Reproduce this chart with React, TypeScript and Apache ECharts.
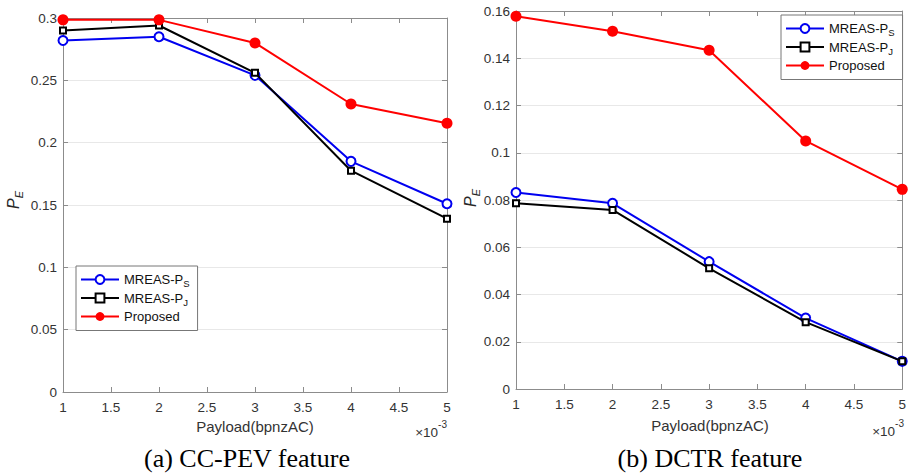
import { useEffect, useRef } from "react";
import * as echarts from "echarts";

const payload = [1, 2, 3, 4, 5];
const seriesNames = ["MREAS-PS", "MREAS-PJ", "Proposed"];
const xTickMin = 1;
const xTickMax = 5;
const xTickStep = 0.5;

// (a) CC-PEV feature
const ccpevPS = [0.282, 0.285, 0.254, 0.185, 0.151];
const ccpevPJ = [0.29, 0.294, 0.256, 0.1775, 0.139];
const ccpevProposed = [0.2985, 0.2985, 0.28, 0.231, 0.2155];
const ccpevYMax = 0.3;
const ccpevYStep = 0.05;

// (b) DCTR feature
const dctrPS = [0.0832, 0.0786, 0.0539, 0.03, 0.0117];
const dctrPJ = [0.0786, 0.0758, 0.0511, 0.0283, 0.0117];
const dctrProposed = [0.1578, 0.1514, 0.1434, 0.105, 0.0845];
const dctrYMax = 0.16;
const dctrYStep = 0.02;

const captions = ["(a) CC-PEV feature", "(b) DCTR feature"];
const xName = "Payload(bpnzAC)";

const SANS = '"Liberation Sans", Arial, Helvetica, sans-serif';
const SERIF = '"Liberation Serif", "Times New Roman", serif';
const AXIS = "#8c8c8c";
const LABEL = "#333333";
const BLUE = "#0000f0";
const BLACK = "#000000";
const RED = "#ff0000";

const pairs = (xs: number[], ys: number[]) => xs.map((x, i) => [x, ys[i]]);

export default function App() {
  const ref = useRef<HTMLDivElement>(null);
  useEffect(() => {
    const chart = echarts.init(ref.current!, null, { renderer: "svg" });

    const grids = [
      { left: 63, top: 18, width: 384, height: 374 },
      { left: 516, top: 11, width: 388, height: 378 },
    ];

    const baseAxis = {
      axisLine: { show: true, onZero: false, lineStyle: { color: AXIS, width: 1 } },
      axisTick: { show: true, inside: true, length: 5, lineStyle: { color: AXIS } },
      splitLine: { show: false },
    };
    const labelStyle = { color: LABEL, fontSize: 13.5, fontFamily: SANS };

    const xAxes: any[] = [];
    const yAxes: any[] = [];
    const yRanges = [
      [ccpevYMax, ccpevYStep],
      [dctrYMax, dctrYStep],
    ];
    [0, 1].forEach((g) => {
      xAxes.push({
        ...baseAxis,
        gridIndex: g,
        type: "value",
        position: "bottom",
        min: xTickMin,
        max: xTickMax,
        interval: xTickStep,
        axisLabel: { ...labelStyle, margin: 8 },
      });
      yAxes.push({
        ...baseAxis,
        gridIndex: g,
        type: "value",
        position: "left",
        min: 0,
        max: yRanges[g][0],
        interval: yRanges[g][1],
        axisLabel: { ...labelStyle, margin: 6 },
        splitLine: { show: true, lineStyle: { color: "#e8e8e8", width: 1 } },
      });
    });
    [0, 1].forEach((g) => {
      xAxes.push({
        ...baseAxis,
        gridIndex: g,
        type: "value",
        position: "top",
        min: xTickMin,
        max: xTickMax,
        interval: xTickStep,
        axisLabel: { show: false },
      });
      yAxes.push({
        ...baseAxis,
        gridIndex: g,
        type: "value",
        position: "right",
        min: 0,
        max: yRanges[g][0],
        interval: yRanges[g][1],
        axisLabel: { show: false },
      });
    });

    const mk = (g: number, idx: number, values: number[]) => {
      const name = seriesNames[idx];
      const color = [BLUE, BLACK, RED][idx];
      const symbol = ["emptyCircle", "emptyRect", "circle"][idx];
      const size = [9, 6, 11][idx];
      const bw = [2, 1.5, 0][idx];
      return {
        name,
        type: "line",
        xAxisIndex: g,
        yAxisIndex: g,
        data: pairs(payload, values),
        symbol,
        symbolSize: size,
        showAllSymbol: true,
        lineStyle: { color, width: 2 },
        itemStyle: { color, borderColor: color, borderWidth: bw },
        emphasis: { disabled: true },
        z: 2 + idx,
      };
    };

    const legendBase = {
      orient: "vertical",
      itemWidth: 38,
      itemHeight: 11,
      itemGap: 3,
      padding: [7, 8, 5, 4],
      borderColor: "#777777",
      borderWidth: 1,
      backgroundColor: "#ffffff",
      selectedMode: false,
      data: seriesNames,
      textStyle: {
        fontSize: 13,
        color: "#111111",
        fontFamily: SANS,
        rich: {
          a: { fontSize: 13, lineHeight: 18, fontFamily: SANS, color: "#111111" },
          s: { fontSize: 9.5, lineHeight: 9, verticalAlign: "bottom", fontFamily: SANS, color: "#111111" },
          h: { fontSize: 9.5, lineHeight: 9, verticalAlign: "bottom", fontFamily: SANS, color: "rgba(0,0,0,0)" },
        },
      },
      formatter: (name: string) => {
        if (name === "MREAS-PS") return "{a|MREAS-P}{s|S}";
        if (name === "MREAS-PJ") return "{a|MREAS-P}{s|J}";
        return "{a|" + name + "}{h|S}";
      },
    };

    const yNameText = (x: number, y: number) => ({
      type: "text",
      x,
      y,
      rotation: Math.PI / 2,
      style: {
        text: "{p|P}{e|E}",
        align: "center",
        verticalAlign: "middle",
        fill: "#262626",
        rich: {
          p: { fontSize: 16, fontStyle: "italic", lineHeight: 22, fontFamily: SANS, fill: "#262626" },
          e: { fontSize: 11, fontStyle: "italic", lineHeight: 11, verticalAlign: "bottom", fontFamily: SANS, fill: "#262626" },
        },
      },
    });

    const expText = (x: number, y: number) => ({
      type: "text",
      x,
      y,
      style: {
        text: "{a|×10}{b|-3}",
        align: "right",
        verticalAlign: "middle",
        fill: "#333333",
        rich: {
          a: { fontSize: 13.5, lineHeight: 20, verticalAlign: "bottom", fontFamily: SANS, fill: "#333333" },
          b: { fontSize: 10, lineHeight: 10, verticalAlign: "top", fontFamily: SANS, fill: "#333333" },
        },
      },
    });

    const xNameText = (x: number, y: number) => ({
      type: "text",
      x,
      y,
      style: {
        text: xName,
        align: "center",
        verticalAlign: "middle",
        fontSize: 15,
        fontFamily: SANS,
        fill: "#333333",
      },
    });

    const captionText = (x: number, y: number, text: string) => ({
      type: "text",
      x,
      y,
      style: {
        text,
        align: "center",
        verticalAlign: "middle",
        fontSize: 26,
        fontFamily: SERIF,
        fill: "#000000",
      },
    });

    chart.setOption({
      animation: false,
      backgroundColor: "#ffffff",
      grid: grids,
      xAxis: xAxes,
      yAxis: yAxes,
      legend: [
        { ...legendBase, left: 76, top: 266 },
        { ...legendBase, left: 781, top: 15 },
      ],
      series: [
        mk(0, 0, ccpevPS),
        mk(0, 1, ccpevPJ),
        mk(0, 2, ccpevProposed),
        mk(1, 0, dctrPS),
        mk(1, 1, dctrPJ),
        mk(1, 2, dctrProposed),
      ],
      graphic: [
        yNameText(13, 200),
        yNameText(470, 198),
        xNameText(255, 426),
        xNameText(710, 425),
        expText(447, 429),
        expText(904, 428),
        captionText(247, 458, captions[0]),
        captionText(710, 458, captions[1]),
      ],
    });
    return () => chart.dispose();
  }, []);
  return (
    <div
      ref={ref}
      style={{ position: "fixed", left: 0, top: 0, width: 909, height: 474 }}
    />
  );
}
